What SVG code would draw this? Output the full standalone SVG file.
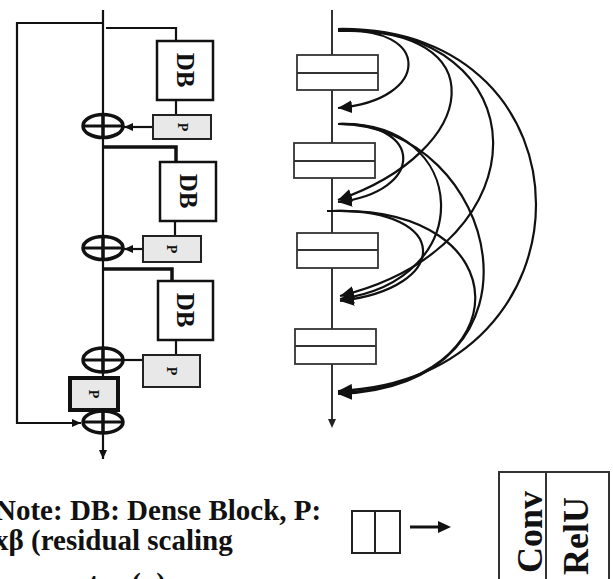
<svg xmlns="http://www.w3.org/2000/svg" width="613" height="579" viewBox="0 0 613 579">
<defs>
<style>
.ln{stroke:#111;stroke-width:2.2;fill:none}
.thk{stroke:#111;stroke-width:3.5;fill:none}
.db{fill:#fff;stroke:#111;stroke-width:2.5}
.pb{fill:#e8e8e8;stroke:#222;stroke-width:2}
.ov{fill:none;stroke:#111;stroke-width:3.5}
.rb{fill:#fff;stroke:#333;stroke-width:1.8}
.cv{stroke:#111;stroke-width:2.2;fill:none;marker-end:url(#ah)}
.t{font-family:"Liberation Serif","Times New Roman",serif;font-weight:bold;fill:#111}
</style>
<marker id="ah" markerWidth="15" markerHeight="13" refX="14" refY="6.5" orient="auto" markerUnits="userSpaceOnUse"><path d="M0,0 L14,6.5 L0,13 Z" fill="#111"/></marker>
<marker id="sa" markerWidth="10" markerHeight="10" refX="9" refY="5" orient="auto" markerUnits="userSpaceOnUse"><path d="M0,1 L9,5 L0,9 Z" fill="#111"/></marker>
</defs>

<g id="connectors">
<line class="ln" x1="103" y1="10" x2="103" y2="459" marker-end="url(#sa)"/>
<path class="ln" d="M103,23 H17 V423 H81" marker-end="url(#sa)"/>
<path class="ln" d="M106,28 H176 V41"/>
<line class="ln" x1="176" y1="100" x2="176" y2="115"/>
<line class="ln" x1="153" y1="127" x2="124" y2="127" marker-end="url(#sa)"/>
<path class="thk" d="M103,147 H176 V162"/>
<line class="ln" x1="175" y1="221" x2="175" y2="236"/>
<line class="ln" x1="143" y1="249" x2="124" y2="249" marker-end="url(#sa)"/>
<path class="thk" d="M103,269 H172 V281"/>
<line class="ln" x1="176" y1="340" x2="176" y2="355"/>
<line class="ln" x1="143" y1="360" x2="122" y2="360"/>
<line x1="332" y1="10" x2="332" y2="420" stroke="#333" stroke-width="2"/>
<path d="M328,419 L336,419 L332,428 Z" fill="#222"/>
<line x1="327" y1="211" x2="345" y2="211" stroke="#111" stroke-width="2"/>
<path class="cv" d="M338,31 C432,25 432,100 338,108"/>
<path class="cv" d="M338,31 C497,25 482,150 338,200"/>
<path class="cv" d="M338,30 C542,25 547,245 340,296"/>
<path class="cv" d="M338,29 C602,25 602,380 338,391"/>
<path class="cv" d="M338,124 C425,122 425,192 338,202"/>
<path class="cv" d="M338,124 C470,120 480,280 340,299"/>
<path class="cv" d="M338,124 C500,125 562,385 338,394"/>
<path class="cv" d="M332,211 C452,208 452,288 340,301"/>
<path class="cv" d="M332,211 C522,205 522,385 338,393"/>
</g>

<g id="DB1"><rect class="db" x="157" y="41" width="56" height="59"/><text class="t" font-size="25" text-anchor="middle" transform="translate(177,70) rotate(90)">DB</text></g>
<g id="P1"><rect class="pb" x="153" y="115" width="58" height="24"/><text class="t" font-size="14" font-weight="normal" text-anchor="middle" transform="translate(178,127) rotate(90)">P</text></g>
<g id="add1"><ellipse class="ov" cx="103" cy="126" rx="20" ry="11.5"/><line x1="83" y1="126" x2="123" y2="126" stroke="#111" stroke-width="3"/><line x1="103" y1="114" x2="103" y2="138" stroke="#111" stroke-width="3.5"/></g>
<g id="DB2"><rect class="db" x="160" y="162" width="56" height="59"/><text class="t" font-size="25" text-anchor="middle" transform="translate(180,191) rotate(90)">DB</text></g>
<g id="P2"><rect class="pb" x="143" y="236" width="58" height="26"/><text class="t" font-size="14" font-weight="normal" text-anchor="middle" transform="translate(167,249) rotate(90)">P</text></g>
<g id="add2"><ellipse class="ov" cx="103" cy="248" rx="20" ry="11.5"/><line x1="83" y1="248" x2="123" y2="248" stroke="#111" stroke-width="3"/><line x1="103" y1="236" x2="103" y2="260" stroke="#111" stroke-width="3.5"/></g>
<g id="DB3"><rect class="db" x="158" y="281" width="55" height="59"/><text class="t" font-size="25" text-anchor="middle" transform="translate(177,310) rotate(90)">DB</text></g>
<g id="P3"><rect class="pb" x="143" y="355" width="57" height="32"/><text class="t" font-size="14" font-weight="normal" text-anchor="middle" transform="translate(167,371) rotate(90)">P</text></g>
<g id="add3"><ellipse class="ov" cx="103" cy="360" rx="20" ry="12"/><line x1="83" y1="360" x2="123" y2="360" stroke="#111" stroke-width="3"/><line x1="103" y1="348" x2="103" y2="372" stroke="#111" stroke-width="3.5"/></g>
<g id="P4"><rect x="70" y="378" width="48" height="32" fill="#e8e8e8" stroke="#111" stroke-width="4"/><text class="t" font-size="14" font-weight="normal" text-anchor="middle" transform="translate(89,394) rotate(90)">P</text></g>
<g id="add4"><ellipse class="ov" cx="103" cy="422" rx="20" ry="11"/><line x1="83" y1="422" x2="123" y2="422" stroke="#111" stroke-width="3"/><line x1="103" y1="411" x2="103" y2="433" stroke="#111" stroke-width="3.5"/></g>

<g id="L1"><rect class="rb" x="297" y="55" width="81" height="35"/><line x1="297" y1="73" x2="378" y2="73" stroke="#333" stroke-width="1.8"/></g>
<g id="L2"><rect class="rb" x="294" y="143" width="81" height="35"/><line x1="294" y1="161" x2="375" y2="161" stroke="#333" stroke-width="1.8"/></g>
<g id="L3"><rect class="rb" x="297" y="233" width="81" height="35"/><line x1="297" y1="250" x2="378" y2="250" stroke="#333" stroke-width="1.8"/></g>
<g id="L4"><rect class="rb" x="295" y="329" width="81" height="35"/><line x1="295" y1="346" x2="376" y2="346" stroke="#333" stroke-width="1.8"/></g>

<g id="note">
<text class="t" font-size="29" x="-5" y="520">Note: DB: Dense Block, P:</text>
<text class="t" font-size="29" x="-6" y="550">xβ (residual scaling</text>
<text class="t" font-size="29" x="-6" y="593">parameter (ρ)</text>
</g>

<g id="legend-small"><rect x="352" y="511" width="48" height="42" fill="#fff" stroke="#222" stroke-width="2"/><line x1="375" y1="511" x2="375" y2="553" stroke="#222" stroke-width="2"/></g>
<g id="legend-arrow"><line x1="410" y1="527" x2="440" y2="527" stroke="#111" stroke-width="3"/><path d="M438,521 L451,527 L438,533 Z" fill="#111"/></g>
<g id="legend-big"><rect x="499" y="472" width="110" height="120" fill="#fff" stroke="#333" stroke-width="2"/><line x1="546" y1="472" x2="546" y2="579" stroke="#333" stroke-width="2"/>
<text class="t" font-size="36" transform="translate(542,573) rotate(-90)">Conv</text>
<text class="t" font-size="36" transform="translate(588,575) rotate(-90)">RelU</text></g>
</svg>
